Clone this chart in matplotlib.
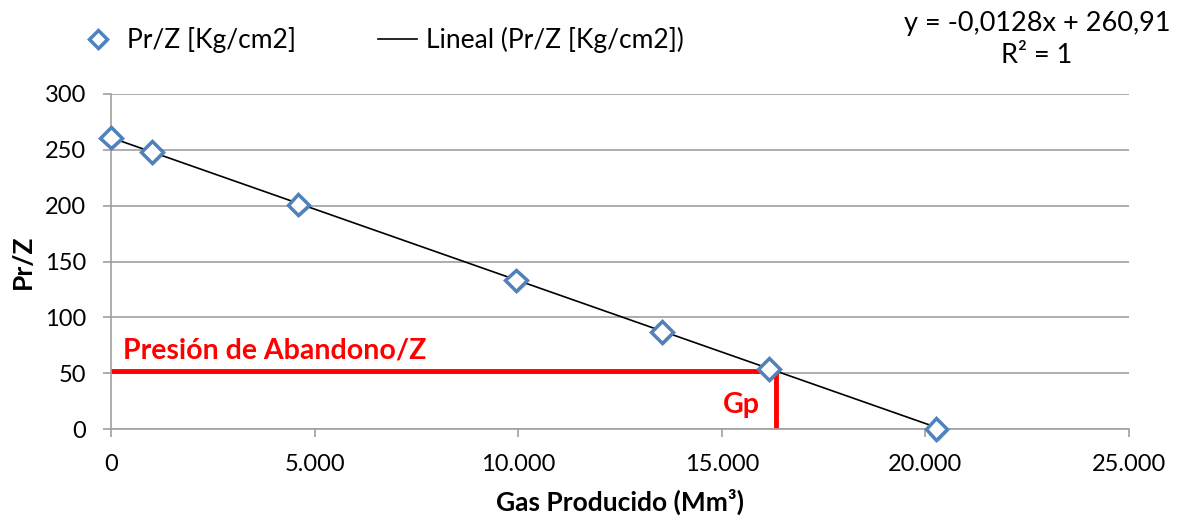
import numpy as np
import matplotlib.pyplot as plt
import matplotlib.ticker as mticker
import matplotlib.patheffects as pe

plt.rcParams['font.family'] = ['Lato', 'DejaVu Sans']

# data
gas = [0, 1000, 4600, 9950, 13530, 16160, 20270]   # Gas Producido (Mm3)
prz = [261, 248, 201, 133, 87, 54, 0]               # Pr/Z [Kg/cm2]
slope = -0.0128
intercept = 260.91
p_aband = 52       # Presion de abandono / Z
gp = 16330         # Gp

fig = plt.figure(figsize=(11.77, 5.23), dpi=100)
ax = fig.add_axes([0.0943, 0.1797, 0.8650, 0.6406])

# trend line
xt = np.array([min(gas), max(gas)])
ax.plot(xt, slope * xt + intercept, color='black', lw=1.2, zorder=3,
        label='Lineal (Pr/Z [Kg/cm2])')

# data points
ax.plot(gas, prz, ls='none', marker='D', ms=11, mew=2.5, mec='#4F81BD',
        mfc='white', zorder=4, label='Pr/Z [Kg/cm2]', clip_on=False,
        path_effects=[pe.SimplePatchShadow(offset=(1.5, -1.5), alpha=0.3), pe.Normal()])

# abandonment lines
ax.plot([0, gp], [p_aband, p_aband], color='#FF0000', lw=3.5, zorder=2)
ax.plot([gp, gp], [p_aband, 0], color='#FF0000', lw=3.5, zorder=2)
ax.text(300, p_aband + 7, 'Presión de Abandono/Z', color='#FF0000', fontsize=20.5,
        fontweight='bold', va='bottom', ha='left')
ax.text(gp - 400, 10, 'Gp', color='#FF0000', fontsize=20.5, fontweight='bold',
        va='bottom', ha='right')

ax.set_xlim(0, 25000)
ax.set_ylim(0, 300)
ax.set_xticks(np.arange(0, 25001, 5000))
ax.set_yticks(np.arange(0, 301, 50))
ax.xaxis.set_major_formatter(mticker.FuncFormatter(lambda v, p: f'{int(v):,}'.replace(',', '.')))
ax.grid(axis='y', color='#A0A0A0', lw=1.2)
ax.set_axisbelow(True)
for s in ['top', 'right']:
    ax.spines[s].set_visible(False)
for s in ['left', 'bottom']:
    ax.spines[s].set_color('#A0A0A0')
    ax.spines[s].set_linewidth(1.2)
ax.tick_params(colors='#A0A0A0', labelcolor='black', labelsize=17, length=6, width=1.2)
ax.tick_params(axis='x', pad=12)
ax.tick_params(axis='y', pad=12)

ax.set_xlabel('Gas Producido (Mm³)', fontsize=19, fontweight='bold', labelpad=10)
ax.set_ylabel('Pr/Z', fontsize=19, fontweight='bold', labelpad=7)

h, l = ax.get_legend_handles_labels()
fig.legend(h[::-1], l[::-1], loc='center left', bbox_to_anchor=(0.046, 0.923), ncol=2,
           frameon=False, fontsize=19, handlelength=1.5, handletextpad=0.35,
           columnspacing=3.1, markerscale=0.85)

fig.text(0.881, 0.955, 'y = -0,0128x + 260,91', fontsize=19.5, ha='center', va='center')
fig.text(0.881, 0.893, 'R² = 1', fontsize=19.5, ha='center', va='center')

fig.savefig('out.png', dpi=100)
